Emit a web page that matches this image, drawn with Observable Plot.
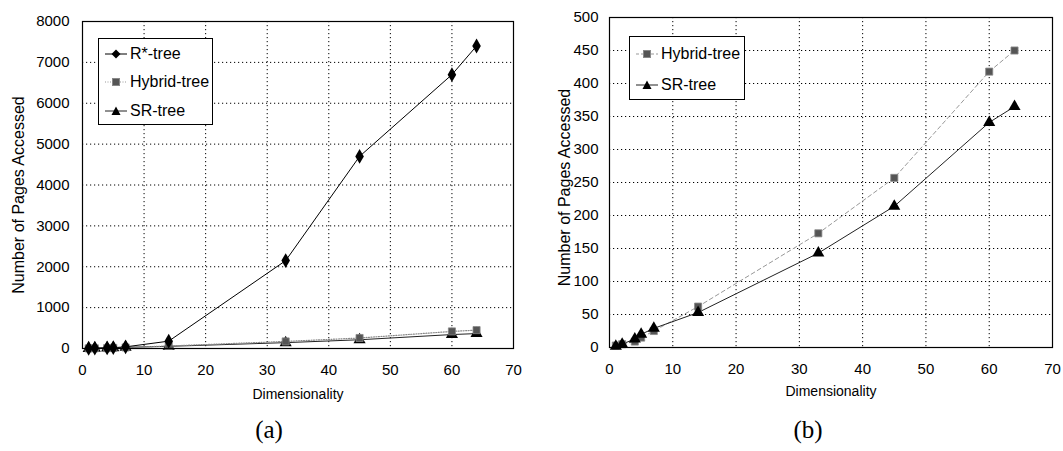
<!DOCTYPE html>
<html>
<head>
<meta charset="utf-8">
<script src="https://cdn.jsdelivr.net/npm/d3@7"></script>
<script src="https://cdn.jsdelivr.net/npm/@observablehq/plot@0.6"></script>
<style>
  html, body { margin: 0; padding: 0; background: #fff; }
  #wrap { position: relative; width: 1063px; height: 451px; background: #fff; font-family: "Liberation Sans", Arial, sans-serif; overflow: hidden; }
  .panel { position: absolute; top: 0; }
  .legend { position: absolute; border: 1px solid #000; background: #fff; box-sizing: border-box; }
  .item { position: absolute; left: 0; height: 20px; display: flex; align-items: center; font-size: 16px; color: #000; }
  .item svg { display: block; margin-right: 2px; }
  .cap { position: absolute; font-family: "Liberation Serif", "Times New Roman", serif; font-size: 25px; color: #000; transform: translate(-50%, -50%); }
</style>
</head>
<body>
<div id="wrap">
  <div id="pa" class="panel" style="left:0"></div>
  <div id="pb" class="panel" style="left:531px"></div>
  <div class="legend" style="left:98px; top:38px; width:115px; height:87px;">
    <div class="item" style="top:5px; left:5px;"><svg width="24" height="12"><line x1="1" y1="6" x2="23" y2="6" stroke="#000"/><path d="M12,1.5 L16.5,6 L12,10.5 L7.5,6 Z" fill="#000"/></svg>R*-tree</div>
    <div class="item" style="top:33px; left:5px;"><svg width="24" height="12"><line x1="1" y1="6" x2="23" y2="6" stroke="#999" stroke-dasharray="1,1.5"/><rect x="8.5" y="2.5" width="7" height="7" fill="#555" stroke="#888"/></svg>Hybrid-tree</div>
    <div class="item" style="top:62px; left:5px;"><svg width="24" height="12"><line x1="1" y1="6" x2="23" y2="6" stroke="#222"/><path d="M12,1.5 L16.5,10 L7.5,10 Z" fill="#000"/></svg>SR-tree</div>
  </div>
  <div class="legend" style="left:629px; top:36px; width:116px; height:64px;">
    <div class="item" style="top:7px; left:5px;"><svg width="24" height="12"><line x1="1" y1="6" x2="23" y2="6" stroke="#999" stroke-dasharray="3,2"/><rect x="8.5" y="2.5" width="7" height="7" fill="#555" stroke="#888"/></svg>Hybrid-tree</div>
    <div class="item" style="top:38px; left:5px;"><svg width="24" height="12"><line x1="1" y1="6" x2="23" y2="6" stroke="#222"/><path d="M12,1.5 L16.5,10 L7.5,10 Z" fill="#000"/></svg>SR-tree</div>
  </div>
  <div class="cap" style="left:269px; top:430px;">(a)</div>
  <div class="cap" style="left:808px; top:430px;">(b)</div>
</div>
<script>
// ---- data ----
const dims   = [1, 2, 4, 5, 7, 14, 33, 45, 60, 64];
const rstar  = [5, 10, 15, 20, 40, 180, 2150, 4700, 6700, 7400];
const hybrid = [3, 5, 9, 15, 25, 62, 173, 257, 418, 450];
const srtree = [2, 5, 13, 20, 29, 53, 143, 214, 341, 365];

const xTicks  = [0, 10, 20, 30, 40, 50, 60, 70];
const yTicksA = [0, 1000, 2000, 3000, 4000, 5000, 6000, 7000, 8000];
const yTicksB = [0, 50, 100, 150, 200, 250, 300, 350, 400, 450, 500];

const xLabel = "Dimensionality";
const yLabel = "Number of Pages Accessed";

const rows = (ys) => dims.map((d, i) => ({x: d, y: ys[i]}));
const dataR = rows(rstar), dataH = rows(hybrid), dataS = rows(srtree);

const font = "Liberation Sans, Arial, sans-serif";
const gridStyle = {stroke: "#000", strokeOpacity: 1, strokeWidth: 1, strokeDasharray: "1.2,2.8"};
const fmt = (d) => String(d);

function panel(opts) {
  return Plot.plot({
    width: opts.width, height: 405,
    marginLeft: opts.ml, marginRight: opts.mr, marginTop: opts.mt, marginBottom: 405 - opts.bottom,
    style: {fontFamily: font, fontSize: "15px", color: "#000", background: "#fff"},
    x: {domain: [0, 70]},
    y: {domain: opts.ydomain},
    marks: [
      Plot.gridX(xTicks.slice(1, -1), gridStyle),
      Plot.gridY(opts.yticks.slice(1, -1), gridStyle),
      Plot.axisX(xTicks, {tickSize: 0, tickPadding: 16, label: null, fontSize: 15, tickFormat: fmt}),
      Plot.axisY(opts.yticks, {tickSize: 0, tickPadding: opts.ypad, label: null, fontSize: 15, tickFormat: fmt}),
      Plot.text([xLabel], {frameAnchor: "bottom", dy: opts.xlabDy, fontSize: 14, fontFamily: font}),
      Plot.text([yLabel], {frameAnchor: "left", textAnchor: "middle", dx: opts.ylabDx, dy: opts.ylabDy, rotate: -90, fontSize: 16, fontFamily: font}),
      ...opts.series,
      Plot.frame({stroke: "#000", strokeWidth: 1.2})
    ]
  });
}

const a = panel({
  width: 531, ml: 82, mr: 18, mt: 21, bottom: 348, ydomain: [0, 8000], yticks: yTicksA, ypad: 13,
  xlabDy: 50, ylabDx: -64, ylabDy: 10,
  series: [
    Plot.line(dataS, {x: "x", y: "y", stroke: "#222", strokeWidth: 1}),
    Plot.line(dataH, {x: "x", y: "y", stroke: "#888", strokeWidth: 1.2, strokeDasharray: "1,1.5"}),
    Plot.line(dataR, {x: "x", y: "y", stroke: "#000", strokeWidth: 1}),
    Plot.dot(dataS, {x: "x", y: "y", symbol: "triangle", r: 4.5, fill: "#000"}),
    Plot.dot(dataH, {x: "x", y: "y", symbol: "square", r: 4, fill: "#555", stroke: "#888", strokeWidth: 0.8}),
    Plot.dot(dataR, {x: "x", y: "y", symbol: "diamond", r: 4.5, fill: "#000"})
  ]
});

const b = panel({
  width: 532, ml: 78, mr: 11, mt: 17, bottom: 347, ydomain: [0, 500], yticks: yTicksB, ypad: 11,
  xlabDy: 48, ylabDx: -45, ylabDy: 5,
  series: [
    Plot.line(dataH, {x: "x", y: "y", stroke: "#999", strokeWidth: 1, strokeDasharray: "4,3"}),
    Plot.line(dataS, {x: "x", y: "y", stroke: "#222", strokeWidth: 1}),
    Plot.dot(dataH, {x: "x", y: "y", symbol: "square", r: 4, fill: "#555", stroke: "#888", strokeWidth: 0.8}),
    Plot.dot(dataS, {x: "x", y: "y", symbol: "triangle", r: 4.5, fill: "#000"})
  ]
});

document.getElementById("pa").appendChild(a);
document.getElementById("pb").appendChild(b);
</script>
</body>
</html>
